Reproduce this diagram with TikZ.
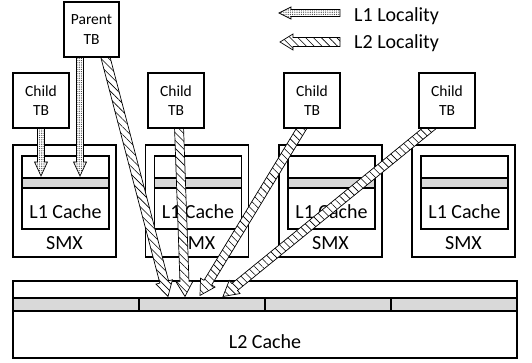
\documentclass[tikz,border=0pt]{standalone}
\usepackage{fontspec}
\setmainfont{Carlito}
\usetikzlibrary{positioning,calc,patterns.meta}
\pgfdeclarelayer{front}
\pgfsetlayers{main,front}

% hollow block arrow: style, from, to, half shaft, half head, head length
\newcommand{\fatarrow}[6]{%
  \coordinate (fa-base) at ($(#3)!#6!(#2)$);
  \draw[#1] ($(#2)!#4!90:(#3)$) -- ($(fa-base)!#4!90:(#3)$) -- ($(fa-base)!#5!90:(#3)$)
    -- (#3) -- ($(fa-base)!#5!-90:(#3)$) -- ($(fa-base)!#4!-90:(#3)$) -- ($(#2)!#4!-90:(#3)$) -- cycle;
}
\newcommand{\loneflow}[2]{\fatarrow{lonearrow}{#1}{#2}{3.5pt}{6.5pt}{14pt}}
\newcommand{\ltwoflow}[2]{\fatarrow{ltwoarrow}{#1}{#2}{4.5pt}{8.5pt}{15pt}}

\tikzset{
  box/.style={draw, line width=1.1pt, inner sep=0pt},
  tbbox/.style={box, fill=white, minimum width=56pt, minimum height=55pt, align=center,
    font=\fontsize{15.5}{19.5}\selectfont},
  smxbox/.style={box, minimum width=103pt, minimum height=112pt},
  lonebox/.style={box, minimum width=87pt, minimum height=73pt},
  bandbox/.style={box, fill=gray!30},
  bigtext/.style={inner sep=0pt, anchor=base, font=\fontsize{20}{24}\selectfont},
  lonearrow/.style={draw, line width=0.7pt, preaction={fill=white},
    pattern={Dots[distance=2.2pt,radius=0.6pt]}, pattern color=black!80},
  ltwoarrow/.style={draw, line width=0.7pt, preaction={fill=white},
    pattern={Lines[angle=-45,distance=5.5pt,line width=0.6pt]}},
}

\begin{document}
\begin{tikzpicture}[x=1pt,y=-1pt]
  \useasboundingbox (0,0) rectangle (532,362);

  % four SMX units, each with its L1 cache
  \foreach \i/\cx in {1/64.5,2/197,3/330.5,4/463.5}
  {
    \node[smxbox] (smx\i) at (\cx,201) {};
    \node[lonebox] (lone\i) at (\cx+1,192.5) {};
    \node[bandbox, minimum width=87pt, minimum height=10pt] (lband\i) at (\cx+1,183) {};
    \node[bigtext] (lonetext\i) at (\cx+1,218) {L1 Cache};
    \node[bigtext] (smxtext\i) at (\cx,249) {SMX};
  }

  % shared L2 cache split in four banks
  \node[box, minimum width=504pt, minimum height=77pt] (ltwo) at (265,319.5) {};
  \foreach \i/\cx in {1/76,2/202,3/328,4/454}
  {
    \node[bandbox, minimum width=126pt, minimum height=13pt] (lseg\i) at (\cx,304.5) {};
  }
  \node[bigtext] (ltwotext) at (265,348) {L2 Cache};

  % thread blocks
  \begin{pgfonlayer}{front}
    \node[tbbox, minimum width=55pt] (ptb) at (91.5,29.5) {Parent\\TB};
    \foreach \i/\cx in {1/41,2/176,3/312,4/447}
    {
      \node[tbbox] (ctb\i) at (\cx,100.5) {Child\\TB};
    }
  \end{pgfonlayer}

  % arrow end points
  \coordinate (pone) at ([xshift=-11.5pt,yshift=2pt]ptb.south);
  \coordinate (ptwo) at ([xshift=13.5pt,yshift=2pt]ptb.south);
  \coordinate (cone) at ([yshift=2pt]ctb1.south);
  \coordinate (ctwo) at ([xshift=3pt,yshift=2pt]ctb2.south);
  \coordinate (cthree) at ([xshift=-8pt,yshift=4pt]ctb3.south);
  \coordinate (cfour) at ([xshift=-13pt,yshift=4pt]ctb4.south);
  \coordinate (hitpone) at ([xshift=14.5pt,yshift=1.5pt]lband1.north);
  \coordinate (hitcone) at ([xshift=-24.5pt,yshift=1.5pt]lband1.north);
  \coordinate (hitptwo) at ([xshift=-34pt,yshift=1pt]lseg2.north);
  \coordinate (hitctwo) at ([xshift=-17pt,yshift=1pt]lseg2.north);
  \coordinate (hitcthree) at ([xshift=-2pt,yshift=2pt]lseg2.north);
  \coordinate (hitcfour) at ([xshift=21pt,yshift=1pt]lseg2.north);

  % L1 locality: reuse inside the same SMX
  \loneflow{cone}{hitcone}
  \loneflow{pone}{hitpone}
  % L2 locality: reuse across SMXs through the L2
  \ltwoflow{ptwo}{hitptwo}
  \ltwoflow{ctwo}{hitctwo}
  \ltwoflow{cthree}{hitcthree}
  \ltwoflow{cfour}{hitcfour}

  % legend
  \coordinate (legonea) at (340,13);
  \coordinate (legoneb) at (279,13);
  \coordinate (legtwoa) at (340,42);
  \coordinate (legtwob) at (280,42);
  \fatarrow{lonearrow}{legonea}{legoneb}{3.5pt}{6pt}{12pt}
  \fatarrow{ltwoarrow}{legtwoa}{legtwob}{4.5pt}{8pt}{13pt}
  \node[bigtext, anchor=base west] (legone) at (354,21) {L1 Locality};
  \node[bigtext, anchor=base west] (legtwo) at (354,48) {L2 Locality};
\end{tikzpicture}
\end{document}
